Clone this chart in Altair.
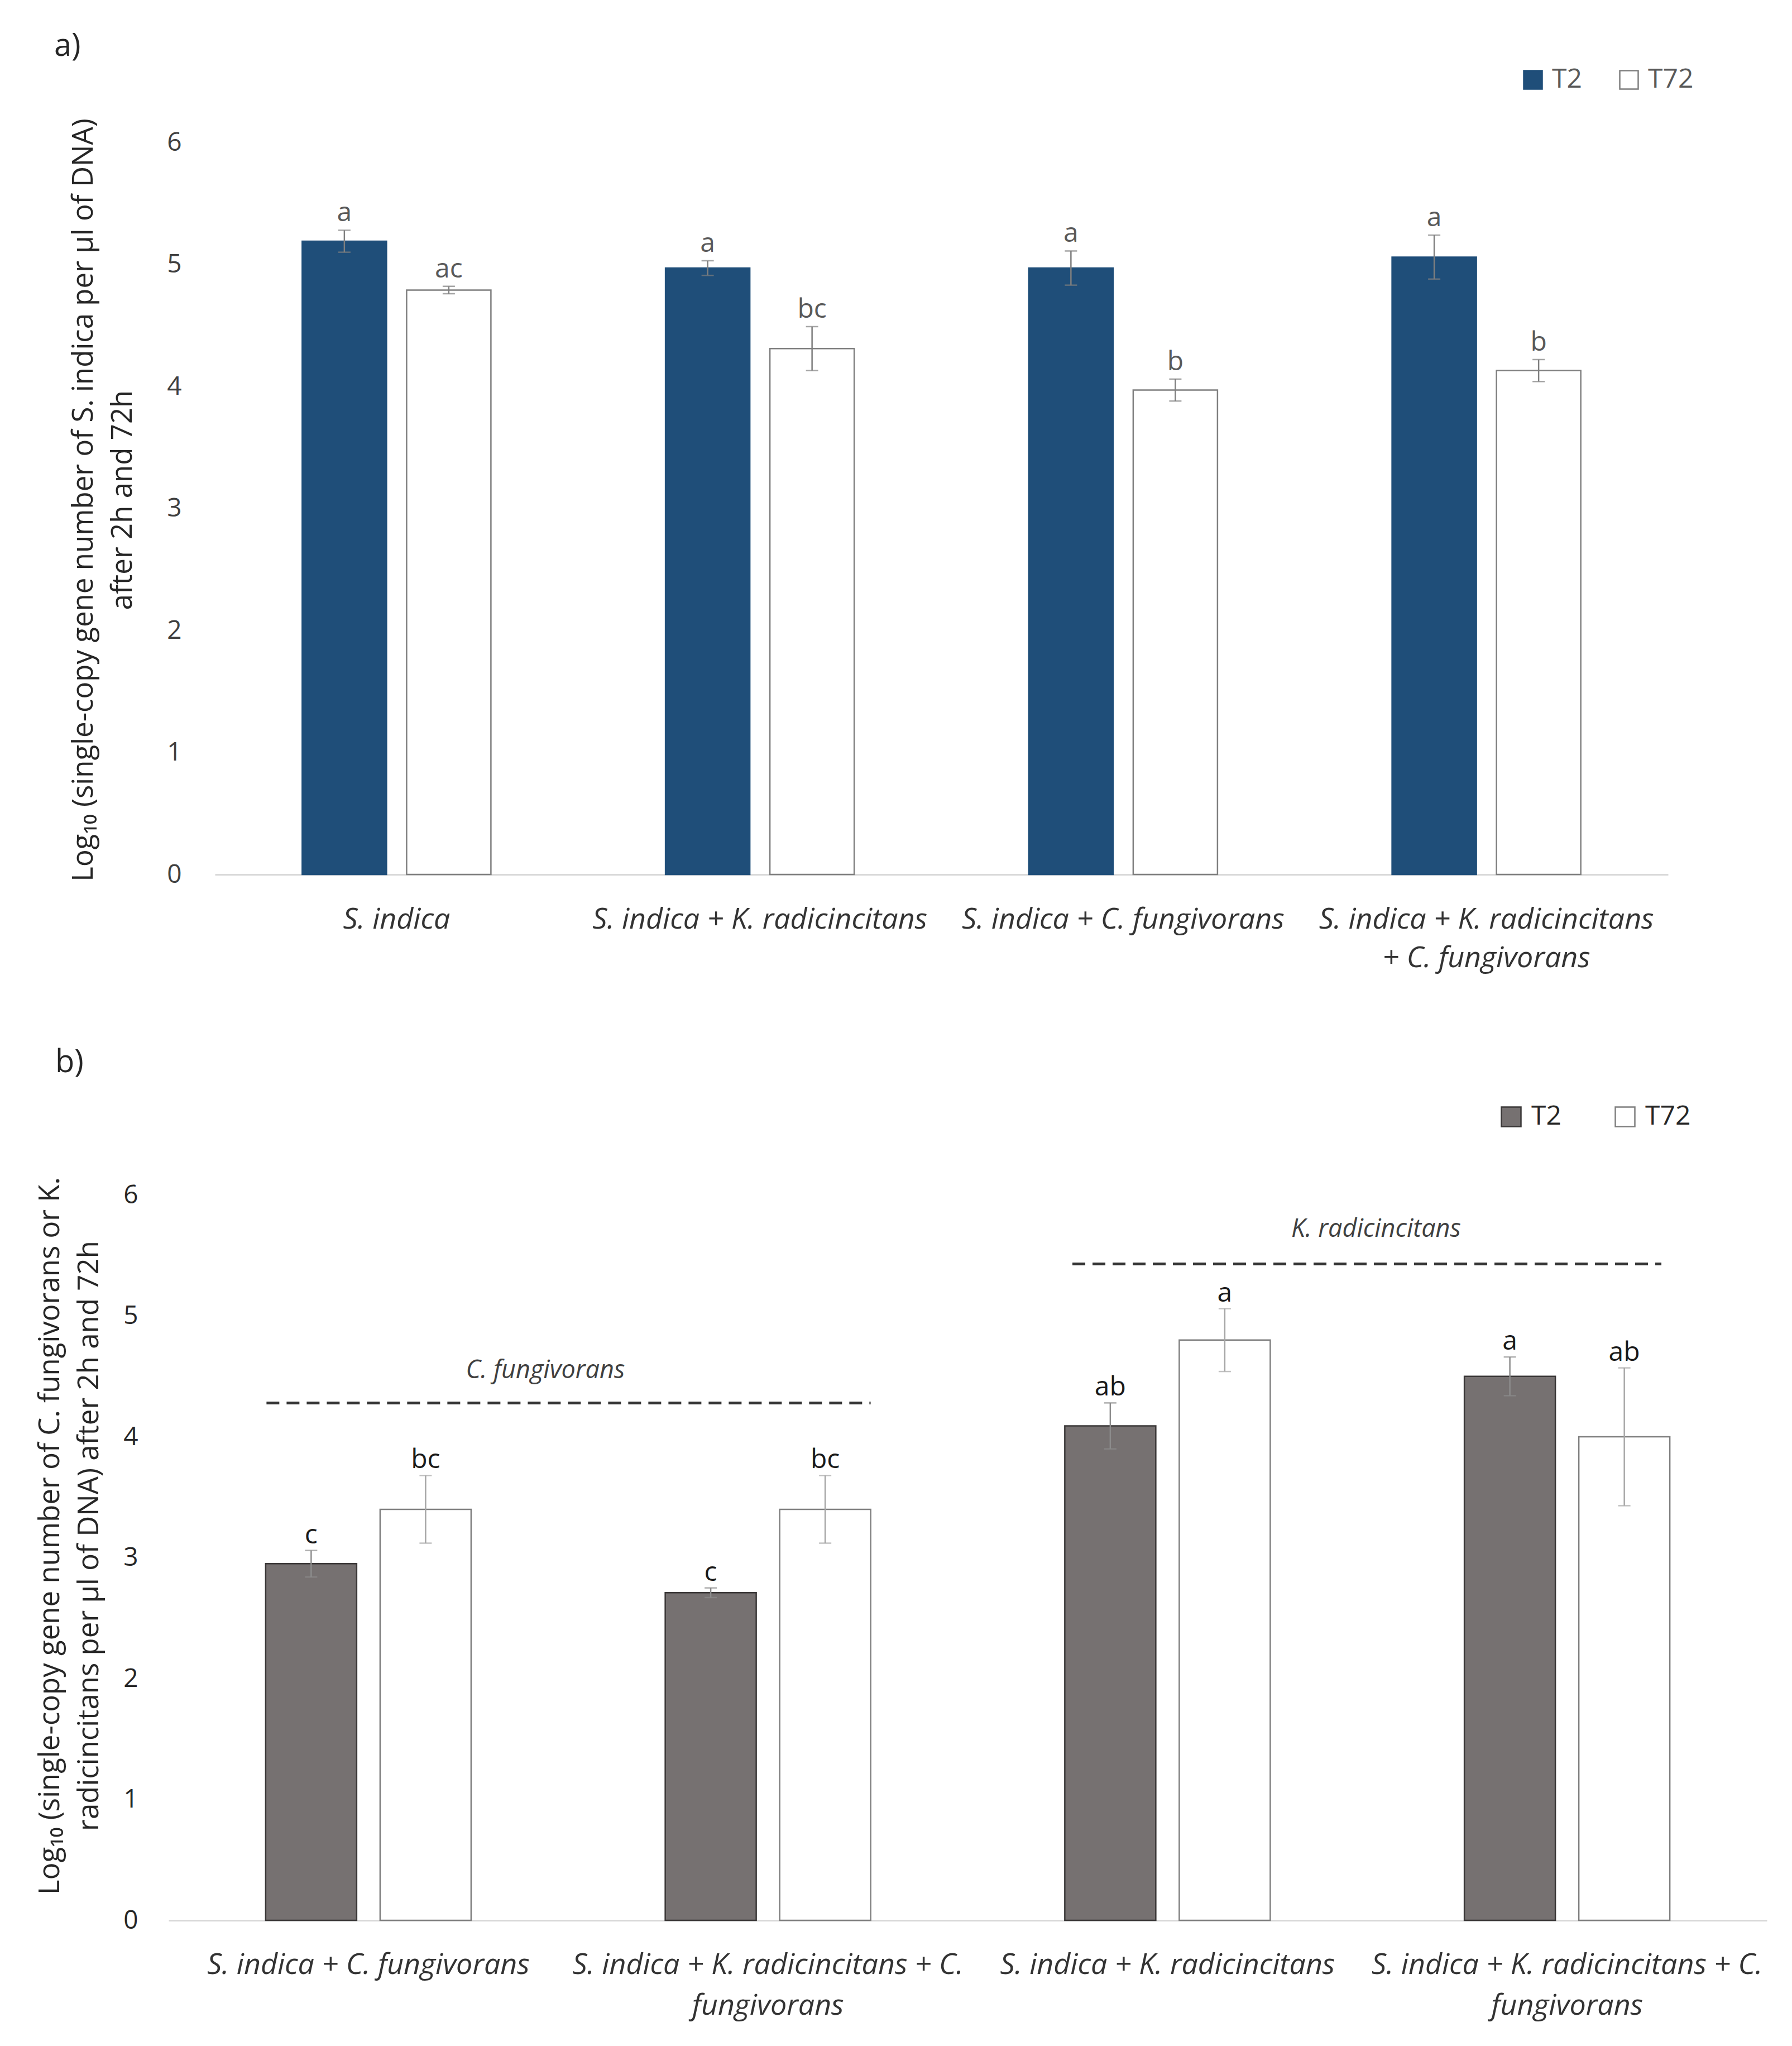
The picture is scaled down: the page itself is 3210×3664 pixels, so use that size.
import altair as alt
import pandas as pd

FONT = "Open Sans"
SERIES = ["T2", "T72"]

# ---------------- panel a data ----------------
keys_a = ["a1", "a2", "a3", "a4"]
labels_a = [["S. indica"],
            ["S. indica + K. radicincitans"],
            ["S. indica + C. fungivorans"],
            ["S. indica + K. radicincitans", "+ C. fungivorans"]]
t2_a = [5.19, 4.97, 4.97, 5.06]
t2_err_a = [0.09, 0.06, 0.14, 0.18]
t72_a = [4.79, 4.31, 3.97, 4.13]
t72_err_a = [0.03, 0.18, 0.09, 0.09]
let_t2_a = ["a", "a", "a", "a"]
let_t72_a = ["ac", "bc", "b", "b"]
ytitle_a = ["Log\u2081\u2080 (single-copy gene number of S. indica per \u00b5l of DNA)",
            "after 2h and 72h"]

# ---------------- panel b data ----------------
keys_b = ["b1", "b2", "b3", "b4"]
labels_b = [["S. indica + C. fungivorans"],
            ["S. indica + K. radicincitans + C.", "fungivorans"],
            ["S. indica + K. radicincitans"],
            ["S. indica + K. radicincitans + C.", "fungivorans"]]
t2_b = [2.95, 2.71, 4.09, 4.50]
t2_err_b = [0.11, 0.04, 0.19, 0.16]
t72_b = [3.40, 3.40, 4.80, 4.00]
t72_err_b = [0.28, 0.28, 0.26, 0.57]
let_t2_b = ["c", "c", "ab", "a"]
let_t72_b = ["bc", "bc", "a", "ab"]
ytitle_b = ["Log\u2081\u2080 (single-copy  gene number of C. fungivorans or K.",
            "radicincitans per \u00b5l of DNA) after 2h and 72h"]

# dashed group lines in panel b
br_names = ["C. fungivorans", "K. radicincitans"]
br_start = ["b1", "b3"]
br_end = ["b2", "b4"]
br_y = [4.28, 5.43]
br_label_y = [4.55, 5.72]
br_label_grp = ["b1", "b4"]
br_band = [(0.245, 0.757, 0.943), (0.262, 0.736, 0.022)]


def label_expr(keys, labels):
    expr = "''"
    for k, lines in reversed(list(zip(keys, labels))):
        arr = "[" + ",".join("'" + l + "'" for l in lines) + "]"
        expr = f"datum.value == '{k}' ? {arr} : ({expr})"
    return expr


def build_df(keys, t2, t2e, t72, t72e, l2, l72, ec2, ec72):
    rows = []
    for i, k in enumerate(keys):
        for s, v, e, l, ec in (("T2", t2[i], t2e[i], l2[i], ec2),
                               ("T72", t72[i], t72e[i], l72[i], ec72)):
            rows.append({"grp": k, "series": s, "val": v, "lo": v - e,
                         "hi": v + e, "letter": l, "ecol": ec})
    return pd.DataFrame(rows)


def make_panel(df, keys, labels, W, H, S, with_brackets=False):
    xaxis = alt.Axis(title=None, labelExpr=label_expr(keys, labels), labelAngle=0,
                     labelFont=FONT, labelFontStyle="italic", labelFontSize=S["xlfs"],
                     labelColor="#333333", labelPadding=S["xlpad"], labelLimit=2000,
                     labelLineHeight=S["xllh"], labelBaseline="top",
                     ticks=False, tickSize=0, domainColor="#d9d9d9", domainWidth=3,
                     grid=False, labelOverlap=False)
    xsc = alt.Scale(domain=keys, paddingInner=0, paddingOuter=0, range=[S["x0"], W])
    x = alt.X("grp:N", sort=keys, scale=xsc, axis=xaxis)
    xoff = alt.XOffset("series:N", sort=SERIES,
                       scale=alt.Scale(domain=SERIES, paddingInner=S["pi"], paddingOuter=S["po"]))
    yaxis = alt.Axis(title=S["ytitle"], values=[0, 1, 2, 3, 4, 5, 6], grid=False, domain=False,
                     ticks=False, tickSize=0, labelFont=FONT, labelFontSize=46,
                     labelColor=S["tickcol"], labelPadding=S["ylpad"], offset=-S["x0"],
                     titleFont=FONT, titleFontSize=51, titleFontWeight="normal",
                     titleColor="#262626", titleX=S["titleX"], titleY=S["titleY"],
                     titleAngle=270, titleAlign="center", titleBaseline="middle",
                     titleLineHeight=70)
    ysc = alt.Scale(domain=[0, 6], nice=False)

    base = alt.Chart(df)
    leg = alt.Legend(orient="none", legendX=S["legX"], legendY=S["legY"], direction="horizontal",
                     title=None, symbolType="square", symbolSize=S["symsize"],
                     symbolStrokeWidth=2.5, labelFont=FONT, labelFontSize=48,
                     labelColor=S["legcol"], labelOffset=S["legoff"],
                     columnPadding=S["legcolpad"], padding=0)
    bars = base.mark_bar(strokeWidth=2.5).encode(
        x=x, xOffset=xoff,
        y=alt.Y("val:Q", scale=ysc, axis=yaxis),
        fill=alt.Fill("series:N", sort=SERIES,
                      scale=alt.Scale(domain=SERIES, range=S["fills"]), legend=leg),
        stroke=alt.Stroke("series:N", sort=SERIES,
                          scale=alt.Scale(domain=SERIES, range=S["strokes"]), legend=leg),
    )
    err = base.mark_rule(strokeWidth=2.5).encode(
        x=x, xOffset=xoff,
        y=alt.Y("lo:Q", scale=ysc, axis=yaxis), y2="hi:Q",
        color=alt.Color("ecol:N", scale=None))
    cap_lo = base.mark_tick(size=22, thickness=2.5).encode(
        x=x, xOffset=xoff, y=alt.Y("lo:Q", scale=ysc, axis=yaxis),
        color=alt.Color("ecol:N", scale=None))
    cap_hi = base.mark_tick(size=22, thickness=2.5).encode(
        x=x, xOffset=xoff, y=alt.Y("hi:Q", scale=ysc, axis=yaxis),
        color=alt.Color("ecol:N", scale=None))
    letters = base.mark_text(font=FONT, fontSize=48, baseline="bottom", dy=S["letdy"],
                             color=S["letcol"]).encode(
        x=x, xOffset=xoff, y=alt.Y("hi:Q", scale=ysc, axis=yaxis), text="letter:N")

    one = pd.DataFrame({"k": [0]})
    tag = alt.Chart(one).mark_text(font=FONT, fontSize=56, align="left", baseline="middle",
                                   color="#262626").encode(
        x=alt.value(S["tagX"]), y=alt.value(S["tagY"]), text=alt.value(S["tag"]))
    layers = [bars, err, cap_lo, cap_hi, letters, tag]
    for ax_, ay_ in S["anchors"]:
        layers.append(alt.Chart(one).mark_text(fontSize=2, align="left", baseline="top",
                                               color="#ffffff").encode(
            x=alt.value(ax_), y=alt.value(ay_), text=alt.value(".")))

    if with_brackets:
        for i in range(len(br_names)):
            d = pd.DataFrame({"start": [br_start[i]], "end": [br_end[i]], "y": [br_y[i]],
                              "ly": [br_label_y[i]], "lg": [br_label_grp[i]],
                              "name": [br_names[i]]})
            b0, b1, bl = br_band[i]
            layers.append(alt.Chart(d).mark_rule(strokeWidth=5, strokeDash=[23, 13],
                                                 color="#333333").encode(
                x=alt.X("start:N", scale=xsc, axis=xaxis, bandPosition=b0),
                x2=alt.X2("end:N", bandPosition=b1),
                y=alt.Y("y:Q", scale=ysc, axis=yaxis)))
            layers.append(alt.Chart(d).mark_text(font=FONT, fontSize=45, fontStyle="italic",
                                                 baseline="middle", align="center",
                                                 color="#404040").encode(
                x=alt.X("lg:N", scale=xsc, axis=xaxis, bandPosition=bl),
                y=alt.Y("ly:Q", scale=ysc, axis=yaxis), text="name:N"))
    return alt.layer(*layers).properties(width=W, height=H)


df_a = build_df(keys_a, t2_a, t2_err_a, t72_a, t72_err_a, let_t2_a, let_t72_a, "#7f7f7f", "#7f7f7f")
df_b = build_df(keys_b, t2_b, t2_err_b, t72_b, t72_err_b, let_t2_b, let_t72_b, "#8c8c8c", "#a6a6a6")

# both plot groups start at the same page x; panel a's data area starts 83 px further right
S_a = dict(x0=83, xlfs=52, xlpad=55, xllh=69, pi=0.1925, po=0.836, ytitle=ytitle_a,
           tickcol="#404040", ylpad=60, titleX=-235, titleY=640,
           legX=2420, legY=-136, symsize=1089, legcol="#595959", legoff=10, legcolpad=60,
           fills=["#1f4e79", "#ffffff"], strokes=["#1f4e79", "#7f7f7f"],
           letdy=-6, letcol="#595959", tag="a)", tagX=-205, tagY=-172,
           anchors=[(-272, -235), (-272, 1535)])
S_b = dict(x0=0, xlfs=52, xlpad=54, xllh=73, pi=0.205, po=0.848, ytitle=ytitle_b,
           tickcol="#262626", ylpad=55, titleX=-212, titleY=610,
           legX=2381, legY=-164, symsize=1225, legcol="#262626", legoff=12, legcolpad=90,
           fills=["#767171", "#ffffff"], strokes=["#3b3838", "#7f7f7f"],
           letdy=-3, letcol="#1a1a1a", tag="b)", tagX=-203, tagY=-237,
           anchors=[(-272, -348)])

panel_a = make_panel(df_a, keys_a, labels_a, 2686, 1311, S_a)
panel_b = make_panel(df_b, keys_b, labels_b, 2863, 1299, S_b, with_brackets=True)

chart = alt.vconcat(panel_a, panel_b, spacing=0).resolve_scale(
    x="independent", y="independent", xOffset="independent",
    fill="independent", stroke="independent"
).resolve_legend(fill="independent", stroke="independent").properties(
    padding={"left": 22, "top": 12, "right": 5, "bottom": 5}
).configure(font=FONT, background="white").configure_view(strokeWidth=0, stroke="transparent")

chart.save("out.html", embed_options={"renderer": "svg", "actions": False})
